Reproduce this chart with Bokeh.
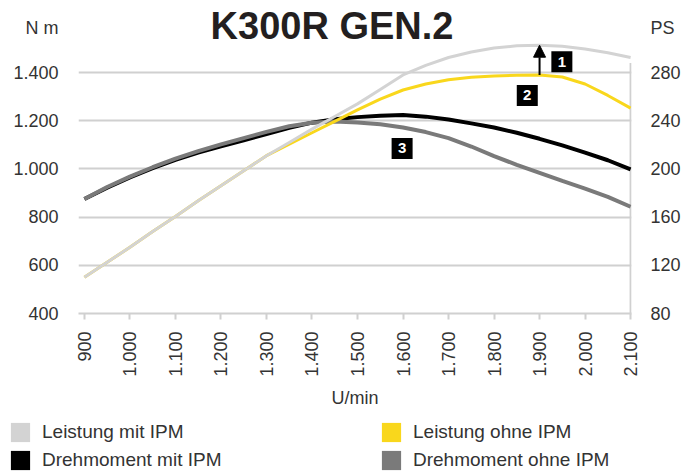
import math
from bokeh.plotting import figure
from bokeh.layouts import column
from bokeh.models import (Range1d, LinearAxis, FixedTicker, Legend, LegendItem,
                          Label, Arrow, NormalHead)
from bokeh.core.properties import value
from bokeh.embed import file_html
from bokeh.resources import INLINE

# ---------------- data ----------------
rpm = [900, 950, 1000, 1050, 1100, 1150, 1200, 1250, 1300, 1350, 1400, 1450,
       1500, 1550, 1600, 1650, 1700, 1750, 1800, 1850, 1900, 1950, 2000, 2050, 2100]

# power in PS (right axis)
leistung_mit_ipm = [110, 122.5, 135, 148, 160.5, 173.5, 186, 198.5, 211, 222, 233, 243.5,
                    254, 266, 278, 286, 292.5, 297, 300.3, 302.2, 302.7, 301.8, 299.5, 296.5, 292.5]
leistung_ohne_ipm = [110, 122.5, 135, 148, 160.5, 173.5, 186, 198.5, 211, 220.5, 230, 239.5,
                     249, 258, 265.5, 270.5, 274, 276, 277.2, 277.8, 278, 276.3, 270.5, 261, 250.5]

# torque in N m (left axis)
drehmoment_mit_ipm = [875, 922, 965, 1003, 1038, 1068, 1094, 1119, 1145, 1171, 1192, 1206,
                      1215, 1221, 1224, 1217, 1205, 1189, 1172, 1150, 1125, 1098, 1068, 1036, 998]
drehmoment_ohne_ipm = [875, 925, 968, 1007, 1043, 1074, 1102, 1128, 1154, 1177, 1192, 1197,
                       1193, 1185, 1172, 1153, 1128, 1093, 1053, 1017, 984, 950, 918, 884, 843]

nm_ticks = [400, 600, 800, 1000, 1200, 1400]
nm_labels = ["400", "600", "800", "1.000", "1.200", "1.400"]
ps_ticks = [80, 120, 160, 200, 240, 280]
ps_labels = ["80", "120", "160", "200", "240", "280"]
rpm_ticks = [900, 1000, 1100, 1200, 1300, 1400, 1500, 1600, 1700, 1800, 1900, 2000, 2100]
rpm_labels = ["900", "1.000", "1.100", "1.200", "1.300", "1.400", "1.500",
              "1.600", "1.700", "1.800", "1.900", "2.000", "2.100"]

chart_title = "K300R GEN.2"
left_unit = "N m"      # shown at the top of the left scale
right_unit = "PS"      # shown at the top of the right scale
unit_nm_pos = 1585     # scale value where the unit text sits
x_title = "U/min"
series_names = ["Leistung mit IPM", "Drehmoment mit IPM", "Leistung ohne IPM", "Drehmoment ohne IPM"]

marker_rpm = [1949, 1873, 1598]
marker_ps = [289, 261, 217]
marker_text = ["1", "2", "3"]
arrow_rpm = 1900
ps_scale_top = 288     # top end of the right scale line

# ---------------- styling ----------------
FONT = "Liberation Sans"
TXT = "#333333"
C_LMIT = "#d3d3d3"
C_LOHNE = "#f9d71c"
C_DMIT = "#000000"
C_DOHNE = "#7a7a7a"
GRID = "#d0d0d0"
W = 683
H_MAIN, H_LEG = 418, 54


def nm_to_ps(v):
    return 80 + (v - 400) * 0.2


NM_MIN, NM_MAX = 400, 1699
PS_MIN, PS_MAX = nm_to_ps(NM_MIN), nm_to_ps(NM_MAX)

# ---------------- main chart ----------------
p = figure(width=W, height=H_MAIN, output_backend="svg", toolbar_location=None,
           x_range=Range1d(887, 2102), y_range=Range1d(NM_MIN, NM_MAX),
           min_border_left=78, min_border_right=50, min_border_top=0,
           min_border_bottom=105, frame_align=False)
p.outline_line_color = None
p.background_fill_color = "white"
p.border_fill_color = "white"
p.extra_y_ranges = {"ps": Range1d(PS_MIN, PS_MAX)}

p.xgrid.visible = False
p.ygrid.ticker = FixedTicker(ticks=nm_ticks)
p.ygrid.grid_line_color = GRID
p.ygrid.grid_line_width = 2

ly = p.yaxis[0]
ly.ticker = FixedTicker(ticks=nm_ticks + [unit_nm_pos])
ly.major_label_overrides = {**{t: l for t, l in zip(nm_ticks, nm_labels)}, unit_nm_pos: left_unit}
ly.axis_line_color = None
ly.major_tick_line_color = None
ly.minor_tick_line_color = None
ly.major_label_standoff = 14
ly.major_label_text_font = FONT
ly.major_label_text_font_size = "18px"
ly.major_label_text_color = TXT

unit_ps_pos = round(nm_to_ps(unit_nm_pos))
ry = LinearAxis(y_range_name="ps", ticker=FixedTicker(ticks=ps_ticks + [unit_ps_pos]))
ry.major_label_overrides = {**{t: l for t, l in zip(ps_ticks, ps_labels)}, unit_ps_pos: right_unit}
ry.axis_line_color = None
ry.major_tick_line_color = None
ry.minor_tick_line_color = None
ry.major_label_standoff = 13
ry.major_label_text_font = FONT
ry.major_label_text_font_size = "18px"
ry.major_label_text_color = TXT
p.add_layout(ry, "right")

xa = p.xaxis[0]
xa.ticker = FixedTicker(ticks=rpm_ticks)
xa.major_label_overrides = {t: l for t, l in zip(rpm_ticks, rpm_labels)}
xa.major_label_orientation = math.pi / 2
xa.axis_line_color = GRID
xa.axis_line_width = 2
xa.major_tick_line_color = GRID
xa.major_tick_line_width = 2
xa.major_tick_out = 6
xa.major_tick_in = 0
xa.minor_tick_line_color = None
xa.major_label_standoff = 12
xa.major_label_text_font = FONT
xa.major_label_text_font_size = "18px"
xa.major_label_text_color = TXT
xa.axis_label = x_title
xa.axis_label_standoff = 8
xa.axis_label_text_font = FONT
xa.axis_label_text_font_size = "18px"
xa.axis_label_text_font_style = "normal"
xa.axis_label_text_color = TXT

# right scale line
p.segment(x0=[rpm_ticks[-1]], y0=[ps_ticks[0]], x1=[rpm_ticks[-1]], y1=[ps_scale_top],
          line_color=GRID, line_width=2, y_range_name="ps")

# curves
p.line(rpm, drehmoment_mit_ipm, line_color=C_DMIT, line_width=4)
p.line(rpm, drehmoment_ohne_ipm, line_color=C_DOHNE, line_width=4)
p.line(rpm, leistung_ohne_ipm, line_color=C_LOHNE, line_width=3, y_range_name="ps")
p.line(rpm, leistung_mit_ipm, line_color=C_LMIT, line_width=3, y_range_name="ps")

ai = rpm.index(arrow_rpm)
p.add_layout(Arrow(end=NormalHead(size=12, fill_color="black", line_color="black", line_width=1),
                   x_start=arrow_rpm, y_start=leistung_ohne_ipm[ai],
                   x_end=arrow_rpm, y_end=leistung_mit_ipm[ai],
                   line_width=2, line_color="black", y_range_name="ps"))

p.rect(x=marker_rpm, y=marker_ps, width=21, height=21, width_units="screen",
       height_units="screen", fill_color="black", line_color=None, y_range_name="ps")
p.text(x=marker_rpm, y=marker_ps, text=marker_text, text_align="center",
       text_baseline="middle", text_color="white", text_font_style="bold",
       text_font_size="15px", text_font=value(FONT), y_range_name="ps")

# title (inside the frame area, above the curves)
p.add_layout(Label(x=253.5, y=287.6, x_units="screen", y_units="screen", text=chart_title,
                   text_font=FONT, text_font_size="38px", text_font_style="bold",
                   text_color="#231f20", text_align="center", text_baseline="middle"))

# ---------------- legend ----------------
leg = figure(width=W, height=H_LEG, output_backend="svg", toolbar_location=None,
             x_range=Range1d(0, 1), y_range=Range1d(0, 1),
             x_axis_location=None, y_axis_location=None,
             min_border=0, min_border_left=0, min_border_right=0,
             min_border_top=0, min_border_bottom=0, frame_align=False)
leg.outline_line_color = None
leg.grid.visible = False
leg.background_fill_color = "white"
leg.border_fill_color = "white"
colors = {"Leistung mit IPM": C_LMIT, "Drehmoment mit IPM": C_DMIT,
          "Leistung ohne IPM": C_LOHNE, "Drehmoment ohne IPM": C_DOHNE}
items = []
for name in series_names:
    # placeholder swatch kept outside the visible range; only its legend glyph is shown
    r = leg.quad(left=[-3], right=[-2], top=[-2], bottom=[-3],
                 fill_color=colors[name], line_color=None)
    items.append(LegendItem(label=name, renderers=[r]))
legend = Legend(items=items, location=(8, 0), orientation="vertical", ncols=2,
                glyph_width=24, glyph_height=24, label_height=24, label_width=333,
                label_standoff=10, spacing=4, padding=0, margin=0,
                border_line_color=None, background_fill_alpha=0,
                label_text_font=FONT, label_text_font_size="19px",
                label_text_color=TXT)
leg.add_layout(legend)

layout = column(p, leg, spacing=0)
open("out.html", "w").write(file_html(layout, INLINE))
